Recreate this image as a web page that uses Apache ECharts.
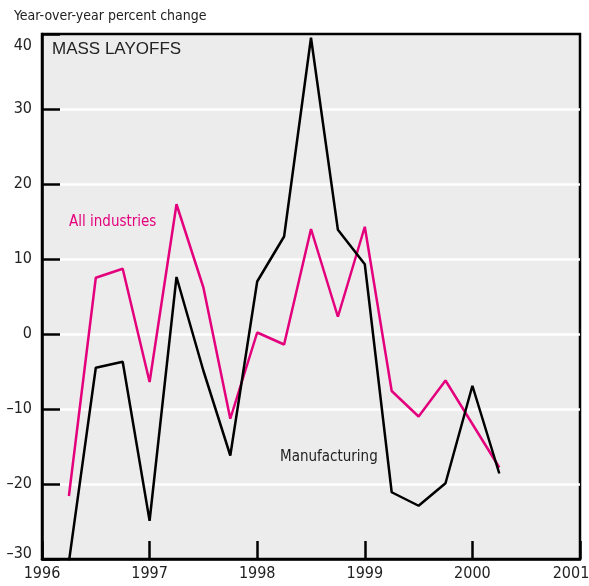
<!DOCTYPE html>
<html>
<head>
<meta charset="utf-8">
<script src="https://cdn.jsdelivr.net/npm/echarts@6/dist/echarts.min.js"></script>
<style>
html,body{margin:0;padding:0;background:#fff;}
#chart{width:589px;height:586px;}
</style>
</head>
<body>
<div id="chart"></div>
<script>
// Quarterly observations (year-over-year percent change)
const quarters = ['1996Q2','1996Q3','1996Q4','1997Q1','1997Q2','1997Q3','1997Q4','1998Q1','1998Q2','1998Q3','1998Q4','1999Q1','1999Q2','1999Q3','1999Q4','2000Q1','2000Q2'];
const allIndustries = [-21.6, 7.5, 8.7, -6.4, 17.3, 6.2, -11.3, 0.2, -1.4, 14.0, 2.3, 14.3, -7.6, -11.0, -6.2, -12.0, -17.8];
const manufacturing = [-30.4, -4.5, -3.7, -24.9, 7.6, -4.9, -16.2, 7.0, 13.0, 39.5, 13.9, 9.3, -21.1, -22.9, -19.9, -6.9, -18.6];
const yTicks = [-30, -20, -10, 0, 10, 20, 30, 40];
const xTicks = [1996, 1997, 1998, 1999, 2000, 2001];

function qToYear(q) {
  const y = parseInt(q.slice(0, 4), 10);
  const n = parseInt(q.slice(5), 10);
  return y + (n - 1) * 0.25;
}
const toPairs = vals => quarters.map((q, i) => [qToYear(q), vals[i]]);

const condensed = '"Liberation Sans Narrow", "DejaVu Sans Condensed", sans-serif';

const chart = echarts.init(document.getElementById('chart'), null, {renderer: 'canvas'});
chart.setOption({
  animation: false,
  backgroundColor: '#ffffff',
  grid: {
    left: 42, right: 9, top: 34, bottom: 27,
    outerBoundsMode: 'none', containLabel: false,
    show: true, backgroundColor: '#ececec', borderColor: '#000', borderWidth: 2.5
  },
  xAxis: {
    type: 'value',
    min: xTicks[0], max: xTicks[xTicks.length - 1], interval: 1,
    axisLine: {show: true, onZero: false, lineStyle: {color: '#000', width: 2.5}},
    axisTick: {show: true, inside: true, length: 18, lineStyle: {color: '#000', width: 2.5}},
    splitLine: {show: false},
    axisLabel: {
      color: '#222', fontFamily: condensed, fontSize: 16, margin: 7,
      formatter: v => v === 2001 ? '{r|' + v + '}' : String(v),
      rich: {r: {fontFamily: condensed, fontSize: 16, color: '#222', padding: [0, 18, 0, 0]}}
    }
  },
  yAxis: {
    type: 'value',
    min: yTicks[0], max: yTicks[yTicks.length - 1], interval: 10,
    axisLine: {show: true, onZero: false, lineStyle: {color: '#000', width: 2.5}},
    axisTick: {show: true, inside: true, length: 18, lineStyle: {color: '#000', width: 2.5}},
    splitLine: {show: true, showMinLine: false, showMaxLine: false, lineStyle: {color: '#ffffff', width: 2.5}},
    axisLabel: {
      color: '#222', fontFamily: condensed, fontSize: 16, margin: 10,
      formatter: v => {
        const s = String(v).replace('-', '\u2013');
        if (v === 40) return '{t|' + s + '}';
        if (v === -30) return '{b|' + s + '}';
        return s;
      },
      rich: {
        t: {fontFamily: condensed, fontSize: 16, color: '#222', padding: [24, 0, 0, 0]},
        b: {fontFamily: condensed, fontSize: 16, color: '#222', padding: [0, 0, 10, 0]}
      }
    }
  },
  series: [
    {
      name: 'All industries', type: 'line', data: toPairs(allIndustries),
      showSymbol: false, symbol: 'none', clip: true,
      lineStyle: {color: '#e4007c', width: 2.5}, z: 3
    },
    {
      name: 'Manufacturing', type: 'line', data: toPairs(manufacturing),
      showSymbol: false, symbol: 'none', clip: true,
      lineStyle: {color: '#000000', width: 2.5}, z: 4
    }
  ],
  graphic: [
    {type: 'text', left: 14, top: 9, style: {text: 'Year-over-year percent change', fill: '#222', font: '14px ' + condensed}},
    {type: 'text', left: 52, top: 41, style: {text: 'MASS LAYOFFS', fill: '#222', font: '17px "Liberation Sans", Arial, sans-serif'}},
    {type: 'text', left: 69, top: 215, style: {text: 'All industries', fill: '#e4007c', font: '15px ' + condensed}},
    {type: 'text', left: 280, top: 450, style: {text: 'Manufacturing', fill: '#222', font: '15px ' + condensed}}
  ]
});
</script>
</body>
</html>
